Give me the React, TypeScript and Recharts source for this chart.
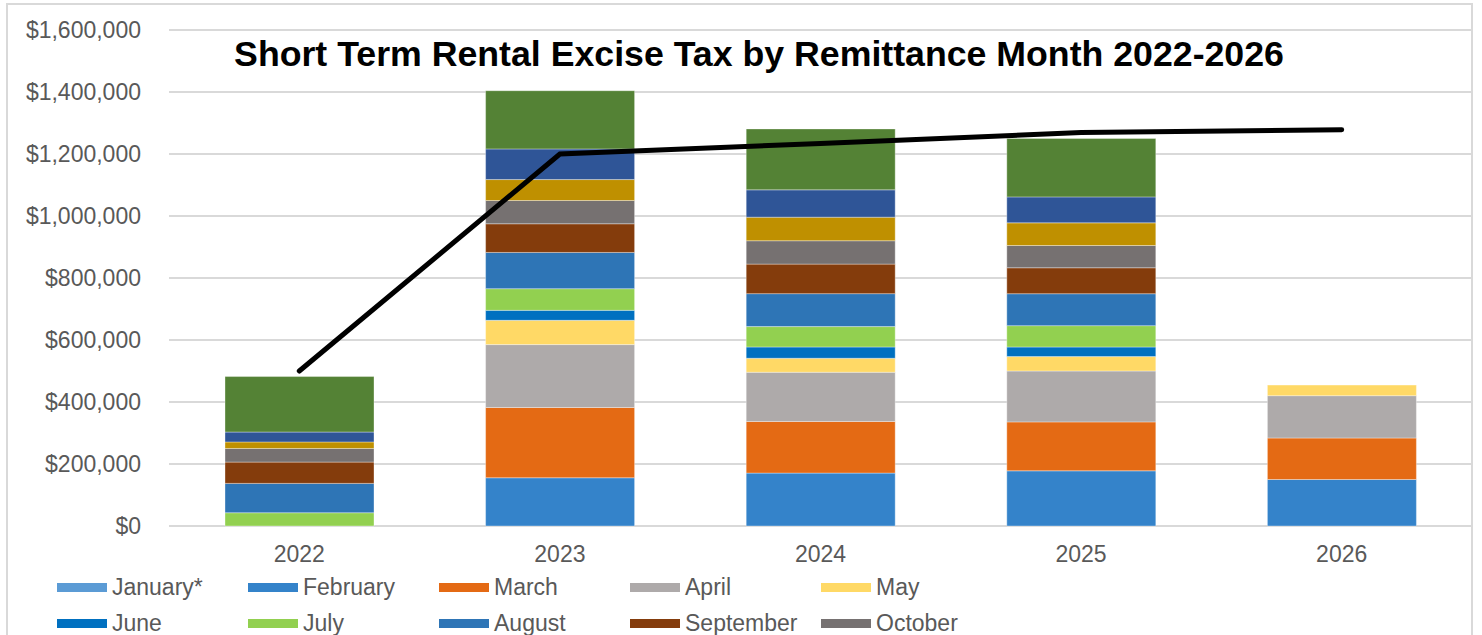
import { ComposedChart, Bar, Line, XAxis, YAxis, CartesianGrid } from 'recharts';

const years = ['2022', '2023', '2024', '2025', '2026'];

const january = [null, null, null, null, null];
const february = [null, 155600, 170700, 178000, 150000];
const march = [null, 226700, 166500, 157800, 133900];
const april = [null, 202900, 158800, 164300, 136500];
const may = [null, 78300, 45100, 46400, 34100];
const june = [null, 32200, 36400, 30900, null];
const july = [42800, 69900, 65700, 68900, null];
const august = [94700, 116900, 106300, 103000, null];
const september = [68600, 92400, 95300, 83700, null];
const october = [44000, 75000, 75400, 71800, null];
const november = [21000, 67600, 76000, 73100, null];
const december = [32000, 98900, 88200, 83700, null];
const annual = [179000, 187800, 196500, 188700, null];
const budget = [500000, 1200000, 1234000, 1269000, 1278000];

const yTicks = [0, 200000, 400000, 600000, 800000, 1000000, 1200000, 1400000, 1600000];

// stacked from the bottom up
const series = [
  { key: 'january', name: 'January*', color: '#5B9BD5', values: january },
  { key: 'february', name: 'February', color: '#3483CA', values: february },
  { key: 'march', name: 'March', color: '#E46A14', values: march },
  { key: 'april', name: 'April', color: '#AEAAAA', values: april },
  { key: 'may', name: 'May', color: '#FFD966', values: may },
  { key: 'june', name: 'June', color: '#0070C0', values: june },
  { key: 'july', name: 'July', color: '#92D050', values: july },
  { key: 'august', name: 'August', color: '#2E75B6', values: august },
  { key: 'september', name: 'September', color: '#843C0C', values: september },
  { key: 'october', name: 'October', color: '#767171', values: october },
  { key: 'november', name: 'November', color: '#BF9000', values: november },
  { key: 'december', name: 'December', color: '#2F5597', values: december },
  { key: 'annual', name: 'Annual', color: '#548235', values: annual },
];

const legendItems = series.slice(0, 10);

const chartData = years.map((year, i) => {
  const row: Record<string, string | number | null> = { year, budget: budget[i] };
  series.forEach((s) => {
    row[s.key] = s.values[i];
  });
  return row;
});

const font = '"Liberation Sans", Arial, sans-serif';

const formatMoney = (v: number) => '$' + v.toLocaleString('en-US');

export default function App() {
  return (
    <div
      style={{
        position: 'absolute',
        left: 0,
        top: 0,
        width: 1482,
        height: 635,
        overflow: 'hidden',
        background: '#fff',
        fontFamily: font,
      }}
    >
      <div
        style={{
          position: 'absolute',
          left: 6,
          top: 3,
          width: 1467,
          height: 660,
          border: '2px solid #D9D9D9',
          boxSizing: 'border-box',
        }}
      />
      <ComposedChart
        width={1482}
        height={635}
        data={chartData}
        margin={{ top: 30, right: 10, left: 0, bottom: 69 }}
      >
        <CartesianGrid vertical={false} stroke="#D9D9D9" strokeWidth={2} />
        <XAxis
          dataKey="year"
          axisLine={false}
          tickLine={false}
          tickSize={0}
          tickMargin={20}
          height={40}
          tick={{ fill: '#595959', fontSize: 23, fontFamily: font }}
        />
        <YAxis
          width={169}
          domain={[0, 1600000]}
          ticks={yTicks}
          axisLine={false}
          tickLine={false}
          tickSize={0}
          tickMargin={28}
          tickFormatter={formatMoney}
          tick={{ fill: '#595959', fontSize: 23, fontFamily: font }}
        />
        {series.map((s) => (
          <Bar
            key={s.key}
            dataKey={s.key}
            name={s.name}
            stackId="a"
            fill={s.color}
            barSize={149}
            stroke="#ffffff"
            strokeOpacity={0.35}
            strokeWidth={1}
            isAnimationActive={false}
          />
        ))}
        <Line
          type="linear"
          dataKey="budget"
          name="Budget"
          stroke="#000000"
          strokeWidth={5}
          strokeLinecap="round"
          dot={false}
          activeDot={false}
          isAnimationActive={false}
        />
      </ComposedChart>
      <div
        style={{
          position: 'absolute',
          left: 0,
          top: 37,
          width: 1518,
          textAlign: 'center',
          fontSize: 35.7,
          lineHeight: '34px',
          fontWeight: 'bold',
          color: '#000',
          whiteSpace: 'nowrap',
        }}
      >
        Short Term Rental Excise Tax by Remittance Month 2022-2026
      </div>
      {legendItems.map((item, i) => {
        const col = i % 5;
        const row = Math.floor(i / 5);
        return (
          <div
            key={item.key}
            style={{
              position: 'absolute',
              left: 57 + col * 191,
              top: 587 + row * 36 - 14,
              height: 28,
              display: 'flex',
              alignItems: 'center',
              fontSize: 23,
              color: '#595959',
              whiteSpace: 'nowrap',
            }}
          >
            <span
              style={{
                display: 'inline-block',
                width: 50,
                height: 9,
                background: item.color,
                marginRight: 5,
              }}
            />
            {item.name}
          </div>
        );
      })}
    </div>
  );
}
